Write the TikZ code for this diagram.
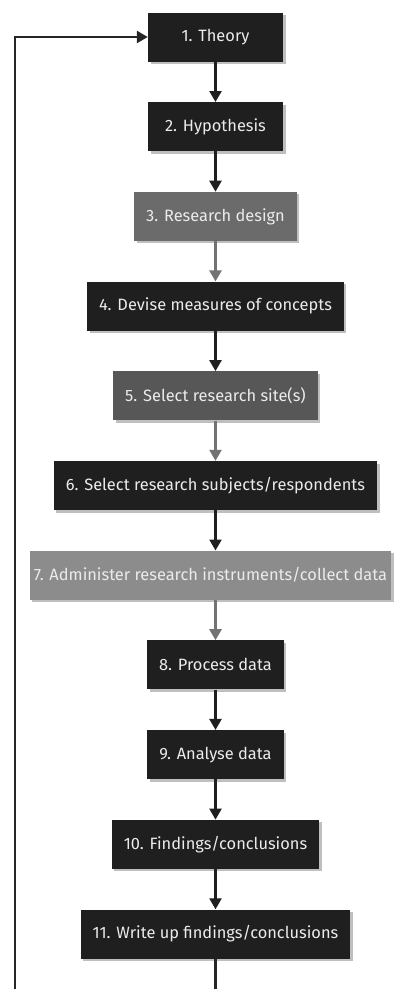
\documentclass[tikz,border=0pt]{standalone}
\usepackage{xcolor}
\usepackage{fontspec}
\setmainfont{Fira Sans}
\usepackage{tikz}
\usetikzlibrary{shapes,arrows.meta,shadows,positioning}
\tikzset{
  stp/.style={rectangle, text=white!92!black, font=\fontsize{16.4}{18}\selectfont, minimum height=49pt, minimum width=135pt, inner xsep=12pt, drop shadow={shadow xshift=2.5pt, shadow yshift=-2.5pt, fill=black, opacity=.25}},
  stp_k/.style={stp, fill=black!88},
  stp_g/.style={stp, fill=black!58},
  stp_m/.style={stp, fill=black!66},
  stp_l/.style={stp, fill=black!45, inner xsep=4pt},
  arr_k/.style={draw=black!88, line width=2.4pt, -{Triangle[width=12pt,length=11pt]}},
  arr_g/.style={arr_k, draw=black!55}
}
\begin{document}
\begin{tikzpicture}[node distance=40.3pt]
\useasboundingbox (0,0) rectangle (395pt,-989pt);
\node[stp_k] (t1) at (215.5pt,-37pt) {1. Theory};
\node[stp_k, below=of t1] (t2) {2. Hypothesis};
\node[stp_g, below=of t2] (t3) {3. Research design};
\node[stp_k, below=of t3] (t4) {4. Devise measures of concepts};
\node[stp_m, below=of t4] (t5) {5. Select research site(s)};
\node[stp_k, below=of t5] (t6) {6. Select research subjects/respondents};
\node[stp_l, below=of t6, xshift=-5pt] (t7) {7. Administer research instruments/collect data};
\node[stp_k, below=of t7, xshift=5pt] (t8) {8. Process data};
\node[stp_k, below=of t8] (t9) {9. Analyse data};
\node[stp_k, below=of t9] (t10) {10. Findings/conclusions};
\node[stp_k, below=of t10] (t11) {11. Write up findings/conclusions};
% arrows between the steps
\draw[arr_k] (t1) -- (t2);
\draw[arr_k] (t2) -- (t3);
\draw[arr_g] (t3) -- (t4);
\draw[arr_k] (t4) -- (t5);
\draw[arr_g] (t5) -- (t6);
\draw[arr_k] (t6) -- (t6 |- t7.north);
\draw[arr_g] (t8 |- t7.south) -- (t8);
\draw[arr_k] (t8) -- (t9);
\draw[arr_k] (t9) -- (t10);
\draw[arr_k] (t10) -- (t11);
% feedback loop (bottom runs off the page)
\coordinate (lb) at (15pt,-1000pt);
\coordinate (rb) at (t11.south |- lb);
\draw[arr_k, draw=black!85] (t11) -- (rb) -- (lb) |- (t1);
\end{tikzpicture}
\end{document}
